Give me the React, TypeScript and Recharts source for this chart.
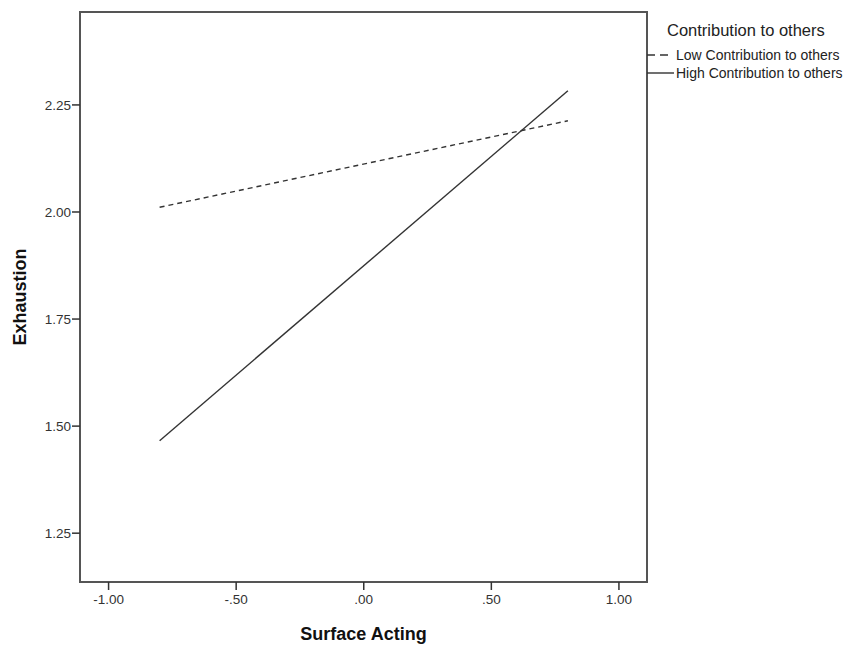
import { LineChart, Line, XAxis, YAxis, ReferenceArea } from "recharts";

// Surface acting at -1 SD / +1 SD
const surfaceActing = [-0.8, 0.8];
const lowContribution = [2.011, 2.213];
const highContribution = [1.466, 2.283];

const xTicks = [-1, -0.5, 0, 0.5, 1];
const yTicks = [1.25, 1.5, 1.75, 2.0, 2.25];

const xDomain = [-1.112, 1.11];
const yDomain = [1.136, 2.467];

const data = surfaceActing.map((x, i) => ({
  x,
  low: lowContribution[i],
  high: highContribution[i],
}));

// SPSS style: drop the leading zero (".50", "-.50")
const fmt = (v: number) => {
  const s = v.toFixed(2);
  if (s.startsWith("0.")) return s.slice(1);
  if (s.startsWith("-0.")) return "-" + s.slice(2);
  return s;
};

const font = "'Liberation Sans', Arial, sans-serif";
const tickStyle = { fontSize: 13.5, fill: "#333", fontFamily: font };

export default function App() {
  return (
    <div style={{ position: "absolute", left: 0, top: 0, width: 848, height: 645, background: "#fff" }}>
      <LineChart
        width={848}
        height={645}
        data={data}
        margin={{ top: 12, right: 201, bottom: 0, left: 0 }}
      >
        <XAxis
          type="number"
          dataKey="x"
          domain={xDomain}
          ticks={xTicks}
          tickFormatter={fmt}
          height={63}
          axisLine={false}
          tickLine={{ stroke: "#333", strokeWidth: 1.5 }}
          tickSize={8}
          tickMargin={4}
          tick={tickStyle}
          allowDataOverflow
          label={{
            value: "Surface Acting",
            position: "center",
            dy: 20,
            style: { fontSize: 18, fontWeight: "bold", fill: "#111", fontFamily: font },
          }}
        />
        <YAxis
          type="number"
          domain={yDomain}
          ticks={yTicks}
          tickFormatter={fmt}
          width={80}
          axisLine={false}
          tickLine={{ stroke: "#333", strokeWidth: 1.5 }}
          tickSize={8}
          tickMargin={1}
          tick={tickStyle}
          allowDataOverflow
          label={{
            value: "Exhaustion",
            angle: -90,
            position: "center",
            dx: -20,
            style: { fontSize: 18, fontWeight: "bold", fill: "#111", fontFamily: font },
          }}
        />
        <ReferenceArea
          x1={xDomain[0]}
          x2={xDomain[1]}
          y1={yDomain[0]}
          y2={yDomain[1]}
          fill="none"
          stroke="#555"
          strokeWidth={2}
          ifOverflow="visible"
        />
        <Line
          dataKey="low"
          stroke="#333"
          strokeWidth={1.4}
          strokeDasharray="5 4"
          dot={false}
          isAnimationActive={false}
        />
        <Line
          dataKey="high"
          stroke="#333"
          strokeWidth={1.4}
          dot={false}
          isAnimationActive={false}
        />
      </LineChart>
      <div
        style={{
          position: "absolute",
          left: 647,
          top: 18,
          fontFamily: font,
          color: "#222",
          whiteSpace: "nowrap",
        }}
      >
        <div style={{ fontSize: 16.5, marginLeft: 20, lineHeight: "24px" }}>Contribution to others</div>
        <div style={{ display: "flex", alignItems: "center", fontSize: 14, lineHeight: "18px", marginTop: 4 }}>
          <svg width={29} height={18}>
            <line x1={0} y1={9} x2={21} y2={9} stroke="#333" strokeWidth={1.4} strokeDasharray="8 5" />
          </svg>
          Low Contribution to others
        </div>
        <div style={{ display: "flex", alignItems: "center", fontSize: 14, lineHeight: "18px" }}>
          <svg width={29} height={18}>
            <line x1={0} y1={9} x2={27} y2={9} stroke="#333" strokeWidth={1.4} />
          </svg>
          High Contribution to others
        </div>
      </div>
    </div>
  );
}
